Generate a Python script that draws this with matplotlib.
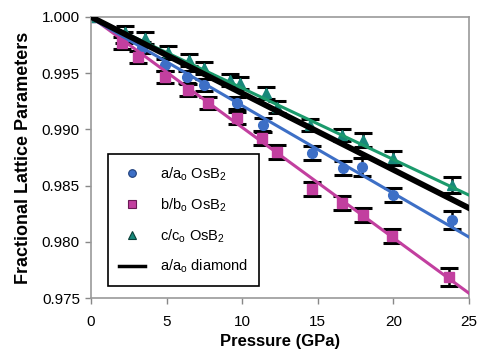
import matplotlib.pyplot as plt
from matplotlib.lines import Line2D

plt.rcParams["font.family"] = ["Liberation Sans", "DejaVu Sans"]

# measured points (pressure in GPa, fractional lattice parameter)
p_a = [0, 2.2, 3.4, 4.9, 6.35, 7.5, 9.65, 11.4, 14.6, 16.7, 17.9, 20.0, 23.9]
a_a = [1.000, 0.99815, 0.99725, 0.99573, 0.99466, 0.99395, 0.99235, 0.99039,
       0.98790, 0.98657, 0.98665, 0.98416, 0.98194]
err_a = [0.0003, 0.0005, 0.0005, 0.0005, 0.0005, 0.0005, 0.0005, 0.0006,
         0.0006, 0.0006, 0.0008, 0.0006, 0.0008]

p_b = [0, 2.05, 3.1, 4.9, 6.4, 7.75, 9.65, 11.3, 12.3, 14.6, 16.6, 18.0, 19.9, 23.7]
b_b = [1.000, 0.99769, 0.99644, 0.99466, 0.99351, 0.99235, 0.99101, 0.98923,
       0.98799, 0.98470, 0.98345, 0.98238, 0.98052, 0.97687]
err_b = [0.0003, 0.0005, 0.0005, 0.0005, 0.0005, 0.0005, 0.0005, 0.0006,
         0.0006, 0.0006, 0.0006, 0.0006, 0.0006, 0.0008]

p_c = [0, 2.25, 3.6, 5.1, 6.5, 7.5, 9.2, 9.85, 11.6, 12.3, 14.5, 16.6, 18.0, 20.0, 23.9]
c_c = [1.000, 0.99867, 0.99813, 0.99689, 0.99617, 0.99546, 0.99440, 0.99413,
       0.99324, 0.99200, 0.99039, 0.98950, 0.98906, 0.98746, 0.98505]
err_c = [0.0003, 0.0005, 0.0005, 0.0005, 0.0005, 0.0005, 0.0005, 0.0005,
         0.0005, 0.0005, 0.0005, 0.0005, 0.0006, 0.0006, 0.0007]

# fitted lines (start and end values over 0-25 GPa)
fit_p = [0, 25]
fit_a = [0.99990, 0.98043]
fit_b = [1.00000, 0.97544]
fit_c = [1.00000, 0.98416]
fit_diamond = [1.00000, 0.98301]

labels = [r"a/a$_\mathregular{o}$ OsB$_\mathregular{2}$",
          r"b/b$_\mathregular{o}$ OsB$_\mathregular{2}$",
          r"c/c$_\mathregular{o}$ OsB$_\mathregular{2}$",
          r"a/a$_\mathregular{o}$ diamond"]

blue, pink, green, teal = "#3d6fc6", "#c23f9f", "#1b9a6c", "#17887a"

fig = plt.figure(figsize=(4.79, 3.52), dpi=100)
ax = fig.add_axes([0.190, 0.153, 0.789, 0.799])

eb = dict(ecolor="black", elinewidth=1.8, capsize=6.5, capthick=2.2, ls="none", zorder=2)
ax.errorbar(p_a, a_a, yerr=err_a, fmt="o", color=blue, ms=7, mec=blue, **eb)
ax.errorbar(p_b, b_b, yerr=err_b, fmt="s", color=pink, ms=7, mec=pink, **eb)
ax.errorbar(p_c, c_c, yerr=err_c, fmt="^", color=teal, ms=7.5, mec=teal, **eb)

ax.plot(fit_p, fit_b, color=pink, lw=2.2, zorder=3)
ax.plot(fit_p, fit_a, color=blue, lw=2.2, zorder=3)
ax.plot(fit_p, fit_c, color=green, lw=2.2, zorder=3)
ax.plot(fit_p, fit_diamond, color="black", lw=4.2, zorder=3)

ax.set_xlim(0, 25)
ax.set_ylim(0.975, 1.000)
ax.set_xticks([0, 5, 10, 15, 20, 25])
ax.set_yticks([0.975, 0.980, 0.985, 0.990, 0.995, 1.000])
ax.set_yticklabels([f"{v:.3f}" for v in ax.get_yticks()])
ax.tick_params(direction="out", length=4, color="#888888", labelsize=11, width=1)
ax.tick_params(axis="x", pad=8)
ax.tick_params(axis="y", pad=4)
for s in ax.spines.values():
    s.set_color("#999999")
    s.set_linewidth(1.2)

ax.set_xlabel("Pressure (GPa)", fontsize=12, fontweight="bold", labelpad=4)
ax.set_ylabel("Fractional Lattice Parameters", fontsize=13, fontweight="bold", labelpad=7)

handles = [Line2D([], [], ls="none", marker="o", ms=5.5, color=blue, mec="#1f3f7a", mew=0.8),
           Line2D([], [], ls="none", marker="s", ms=5.5, color=pink, mec="#6a1a55", mew=0.8),
           Line2D([], [], ls="none", marker="^", ms=6, color=teal, mec="#0a3f38", mew=0.8),
           Line2D([], [], color="black", lw=2.5)]
leg = ax.legend(handles, labels, loc="lower left", bbox_to_anchor=(0.045, 0.042),
                fontsize=10.5, frameon=True, fancybox=False, edgecolor="black",
                framealpha=1, labelspacing=0.9, handlelength=1.8, borderpad=0.75,
                handletextpad=1.0, borderaxespad=0)
leg.get_frame().set_linewidth(1.2)

fig.savefig("out.png", dpi=100)
